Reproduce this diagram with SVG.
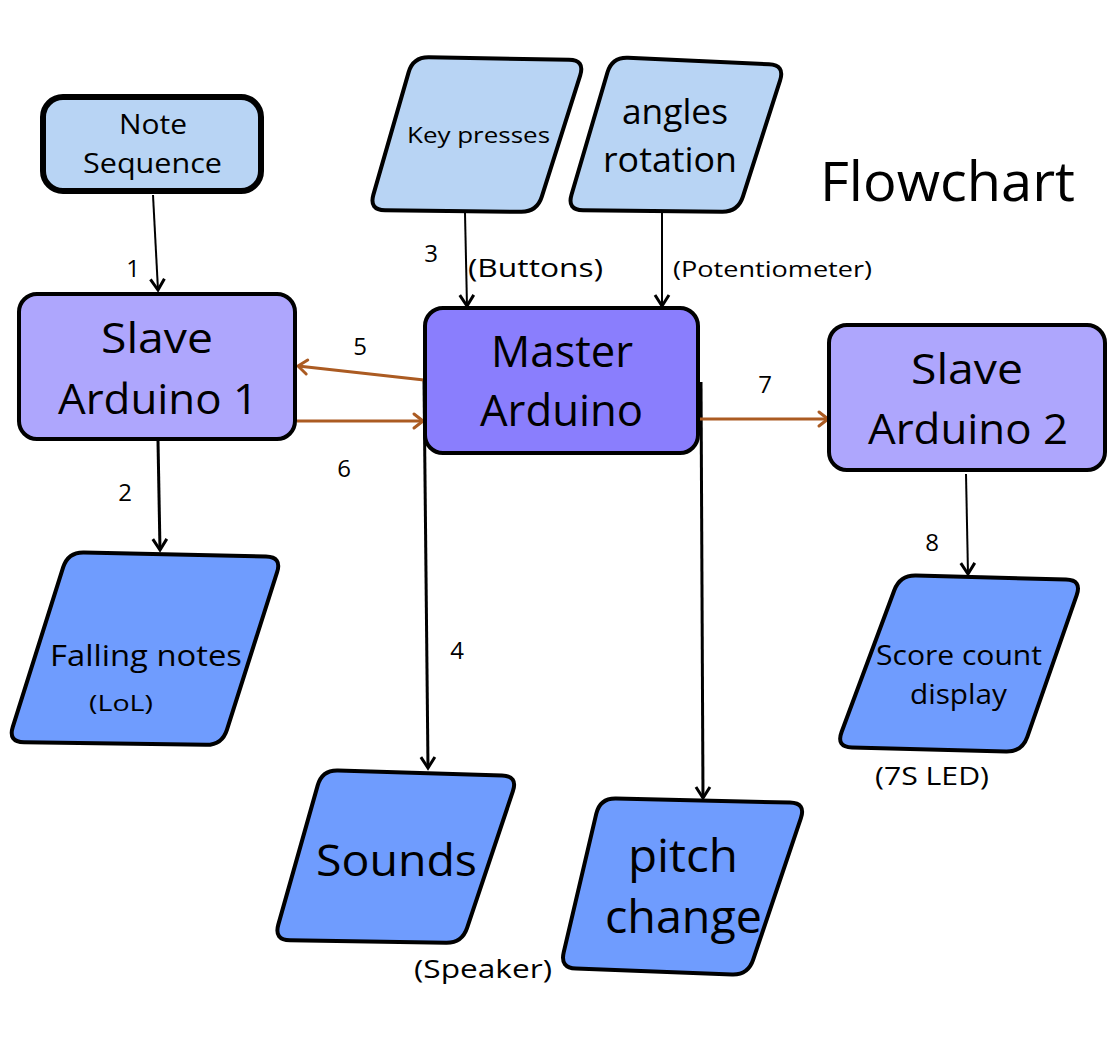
<svg xmlns="http://www.w3.org/2000/svg" width="1119" height="1038" viewBox="0 0 1119 1038">
<defs>
<marker id="ab" markerUnits="userSpaceOnUse" markerWidth="20" markerHeight="20" viewBox="0 0 20 20" refX="16" refY="10" orient="auto">
<path d="M5,3 L16,10 L5,17" fill="none" stroke="#000" stroke-width="3" stroke-linejoin="miter"/>
</marker>
<marker id="ao" markerUnits="userSpaceOnUse" markerWidth="20" markerHeight="20" viewBox="0 0 20 20" refX="16" refY="10" orient="auto">
<path d="M7,3 L16,10 L7,17" fill="none" stroke="#ab5b22" stroke-width="3" stroke-linecap="round" stroke-linejoin="round"/>
</marker>
</defs>
<style>
text{font-family:"Open Sans","Noto Sans","Liberation Sans",sans-serif;fill:#000;text-anchor:middle}
.in{fill:#b8d4f4;stroke:#000;stroke-width:4}
.out{fill:#6f9cfe;stroke:#000;stroke-width:4}
.sl{fill:#aea6fd;stroke:#000;stroke-width:4}
.ms{fill:#8a7efd;stroke:#000;stroke-width:4}
.cb{stroke:#000;fill:none}
.co{stroke:#ab5b22;stroke-width:3;fill:none}
.lb{font-size:24px}
</style>
<rect width="1119" height="1038" fill="#fff"/>
<text x="947.5" y="201" font-size="54" textLength="255" lengthAdjust="spacingAndGlyphs">Flowchart</text>
<g id="connectors">
<line class="cb" stroke-width="2" x1="153" y1="195" x2="158" y2="290" marker-end="url(#ab)"/>
<line class="cb" stroke-width="3" x1="158" y1="441" x2="160" y2="550" marker-end="url(#ab)"/>
<line class="cb" stroke-width="2" x1="465" y1="213" x2="467" y2="306" marker-end="url(#ab)"/>
<line class="cb" stroke-width="2" x1="662" y1="213" x2="662" y2="306" marker-end="url(#ab)"/>
<line class="cb" stroke-width="3" x1="424" y1="380" x2="428" y2="768" marker-end="url(#ab)"/>
<line class="cb" stroke-width="3" x1="701" y1="382" x2="703" y2="798" marker-end="url(#ab)"/>
<line class="cb" stroke-width="2" x1="966" y1="474" x2="968" y2="574" marker-end="url(#ab)"/>
<line class="co" x1="424" y1="380" x2="298" y2="366" marker-end="url(#ao)"/>
<line class="co" x1="297" y1="421" x2="423" y2="421" marker-end="url(#ao)"/>
<line class="co" x1="700" y1="419" x2="828" y2="419" marker-end="url(#ao)"/>
<text class="lb" x="133" y="277">1</text>
<text class="lb" x="125" y="501">2</text>
<text class="lb" x="431" y="262">3</text>
<text x="535.5" y="277" font-size="26" textLength="135" lengthAdjust="spacingAndGlyphs">(Buttons)</text>
<text x="772.5" y="277" font-size="22" textLength="199" lengthAdjust="spacingAndGlyphs">(Potentiometer)</text>
<text class="lb" x="457" y="659">4</text>
<text class="lb" x="360" y="355">5</text>
<text class="lb" x="344" y="477">6</text>
<text class="lb" x="765" y="393">7</text>
<text class="lb" x="932" y="551">8</text>
</g>
<g id="note-sequence">
<rect x="43" y="97" width="218" height="94" rx="20" fill="#b8d4f4" stroke="#000" stroke-width="6"/>
<text x="153" y="134" font-size="28" textLength="68" lengthAdjust="spacingAndGlyphs">Note</text>
<text x="152.5" y="173" font-size="28" textLength="139" lengthAdjust="spacingAndGlyphs">Sequence</text>
</g>
<g id="key-presses">
<path class="in" d="M 429,57.3 L 569,59.7 Q 585,60 580.2,75.3 L 541.8,196.7 Q 537,212 521,211.8 L 385,210.2 Q 369,210 373.4,194.6 L 408.6,72.4 Q 413,57 429,57.3 Z"/>
<text x="478.5" y="143" font-size="22" textLength="143" lengthAdjust="spacingAndGlyphs">Key presses</text>
</g>
<g id="angles-rotation">
<path class="in" d="M 628,57.7 L 769,64.3 Q 785,65 780.1,80.3 L 742.9,196.7 Q 738,212 722,211.8 L 583,210.2 Q 567,210 571.5,194.7 L 607.5,72.3 Q 612,57 628,57.7 Z"/>
<text x="675" y="124" font-size="34" textLength="106" lengthAdjust="spacingAndGlyphs">angles</text>
<text x="670" y="172" font-size="34" textLength="134" lengthAdjust="spacingAndGlyphs">rotation</text>
</g>
<g id="slave1">
<rect class="sl" x="19" y="294" width="276" height="145" rx="18"/>
<text x="157" y="353" font-size="42" textLength="112" lengthAdjust="spacingAndGlyphs">Slave</text>
<text x="158" y="414" font-size="42" textLength="200" lengthAdjust="spacingAndGlyphs">Arduino 1</text>
</g>
<g id="master">
<rect class="ms" x="425" y="308" width="273" height="145" rx="18"/>
<text x="562" y="367" font-size="44" textLength="142" lengthAdjust="spacingAndGlyphs">Master</text>
<text x="561.5" y="426" font-size="44" textLength="163" lengthAdjust="spacingAndGlyphs">Arduino</text>
</g>
<g id="slave2">
<rect class="sl" x="829" y="325" width="276" height="145" rx="18"/>
<text x="967" y="384" font-size="42" textLength="112" lengthAdjust="spacingAndGlyphs">Slave</text>
<text x="968" y="444" font-size="42" textLength="200" lengthAdjust="spacingAndGlyphs">Arduino 2</text>
</g>
<g id="falling-notes">
<path class="out" d="M 84,552.4 L 266,556.6 Q 282,557 277.1,572.2 L 226.9,729.8 Q 222,745 206,744.8 L 24,742.2 Q 8,742 12.8,726.8 L 63.2,567.2 Q 68,552 84,552.4 Z"/>
<text x="146" y="666" font-size="30" textLength="192" lengthAdjust="spacingAndGlyphs">Falling notes</text>
<text x="121" y="711" font-size="22" textLength="64" lengthAdjust="spacingAndGlyphs">(LoL)</text>
</g>
<g id="sounds">
<path class="out" d="M 338,770.5 L 502,775.5 Q 518,776 512.9,791.2 L 467.1,927.8 Q 462,943 446,942.7 L 290,940.3 Q 274,940 278.3,924.6 L 317.7,785.4 Q 322,770 338,770.5 Z"/>
<text x="396.5" y="876" font-size="44" textLength="161" lengthAdjust="spacingAndGlyphs">Sounds</text>
<text x="483" y="978" font-size="26" textLength="138" lengthAdjust="spacingAndGlyphs">(Speaker)</text>
</g>
<g id="pitch-change">
<path class="out" d="M 616,798.4 L 790,802.6 Q 806,803 800.9,818.2 L 753.1,959.8 Q 748,975 732,974.4 L 576,968.6 Q 560,968 563.7,952.4 L 596.3,813.6 Q 600,798 616,798.4 Z"/>
<text x="683" y="872" font-size="46" textLength="110" lengthAdjust="spacingAndGlyphs">pitch</text>
<text x="683.5" y="933" font-size="46" textLength="157" lengthAdjust="spacingAndGlyphs">change</text>
</g>
<g id="score-count">
<path class="out" d="M 916,575.4 L 1066,579.6 Q 1082,580 1076.7,595.1 L 1027.3,736.9 Q 1022,752 1006,751.6 L 852,747.4 Q 836,747 841.6,732 L 894.4,590 Q 900,575 916,575.4 Z"/>
<text x="959" y="665" font-size="27" textLength="166" lengthAdjust="spacingAndGlyphs">Score count</text>
<text x="958.5" y="704" font-size="27" textLength="97" lengthAdjust="spacingAndGlyphs">display</text>
<text x="932" y="785" font-size="25" textLength="114" lengthAdjust="spacingAndGlyphs">(7S LED)</text>
</g>
</svg>
